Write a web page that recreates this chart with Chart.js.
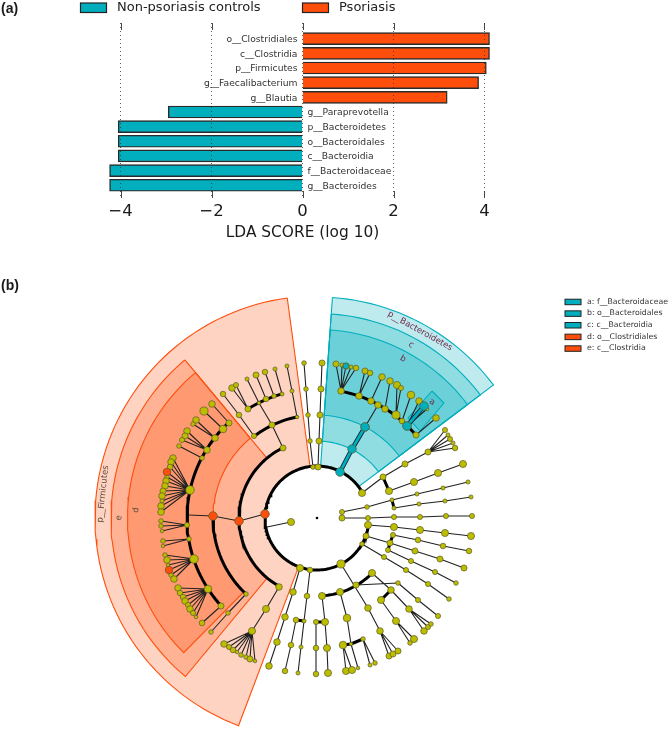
<!DOCTYPE html>
<html><head><meta charset="utf-8">
<style>html,body{margin:0;padding:0;background:#fff;width:669px;height:730px;overflow:hidden}
canvas{position:absolute;left:0}</style>
<script src="https://cdn.jsdelivr.net/npm/chart.js@4"></script>
</head><body>
<canvas id="lda" width="669" height="270" style="top:0"></canvas>
<canvas id="clado" width="669" height="460" style="top:270px"></canvas>
<script>
const FONT='"DejaVu Sans"';
const TEAL='#00AEBD', ORANGE='#FF4E0B';

// ---------- (a) LDA bars ----------
const taxa=['o__Clostridiales','c__Clostridia','p__Firmicutes','g__Faecalibacterium','g__Blautia','g__Paraprevotella','p__Bacteroidetes','o__Bacteroidales','c__Bacteroidia','f__Bacteroidaceae','g__Bacteroides'];
const psoriasisScores=[4.11,4.11,4.04,3.87,3.18];
const controlScores=[-2.95,-4.05,-4.05,-4.05,-4.24,-4.24];
const ldaTicks=[-4,-2,0,2,4];
const groupNames=['Non-psoriasis controls','Psoriasis'];
const cladeKeys=['a: f__Bacteroidaceae','b: o__Bacteroidales','c: c__Bacteroidia','d: o__Clostridiales','e: c__Clostridia'];

// ---------- (b) cladogram ----------
const cladeCentre=[317,518];
// sectors: [startDeg, endDeg, innerR, outerR] clockwise from 12 o'clock
const firmicutesSectors=[[-7.7,-159.3,52,222],[-39.9,-140.3,78,206],[-39.9,-135.3,104,189.5]];
const bacteroidetesSectors=[[4,53,52,221],[4,53,77,204.5],[4,53,103,188.5]];
const familyBox=[[432,391],[444,403],[420,431],[408,418],[432,391]];
// nodes: [x, y, diameter, children]
const firmicutesTree=[
 [265,514,6.5,[[239,521,6.5,[[213,516,6.5,[[188,515,0,[]]]]]]]],
 [291,522,6.5,[[267,527,0,[]]]],
 [283,448,5.5,[[272,425,5.5,[[259,403,3,[[247,379,3.5,[]]]]]]]],
 [254,436,4.5,[[239,415,5,[[223,394,5,[]]]]]],
 [297,417,3,[[292,391,3.5,[[287,366,3.5,[]]]]]],
 [248,409,5.5,[[232,388,6,[]],[236,385,4.5,[]]]],
 [266,399,5,[[256,375,5.5,[]]]],
 [274,396,4,[[265,372,5,[]]]],
 [282,394,3.5,[[275,369,3.5,[]]]],
 [229,423,5.5,[[212,404,6,[]]]],
 [223,429,7,[[204,411,7.5,[]]]],
 [215,438,6,[[196,420,6,[]],[193,424,4,[]]]],
 [207,450,6,[[187,431,6,[]],[185,436,5.5,[]],[182,440,4.5,[]]]],
 [202,458,4,[[179,446,4,[]]]],
 [190,490,8,[[173,458,6,[]],[171,462,6,[]],[170,467,5,[]],[167,472,5.5,[]],[167,477,4,[]],[166,481,6,[]],[165,486,6,[]],[163,491,5.5,[]],[162,496,6,[]],[162,501,3.5,[]],[161,506,6,[]],[161,512,6,[]]]],
 [187,525,4.5,[[161,521,4,[]],[161,526,4,[]],[162,531,3,[]]]],
 [189,539,4,[[163,541,4,[]],[163,546,3,[]]]],
 [194,559,8,[[165,555,4,[]],[167,560,6,[]],[168,565,3,[]],[169,570,5.5,[]],[171,575,4,[]],[174,579,6,[]]]],
 [208,589,7,[[178,588,6,[]],[180,593,5,[]],[183,597,5,[]],[185,601,6,[]],[188,605,4.5,[]],[190,609,6,[]],[193,613,4.5,[]],[196,617,3,[]]]],
 [221,606,5.5,[[202,623,5,[]]]],
 [246,594,4,[[228,613,4,[[211,632,4,[]]]]]],
 [279,587,6,[[266,609,6.5,[[252,631,6.5,[[224,644,6,[]],[229,647,4.5,[]],[233,650,5,[]],[237,652,3,[]],[241,655,4,[]],[246,657,4,[]],[250,659,5.5,[]],[255,661,3,[]]]]]]]]
];
const bacteroidetesTree=[
 [341,391,6,[[336,364,5.5,[]],[342,365,3.5,[]],[346,366,5.5,[]],[351,367,3.5,[]],[356,368,5,[]]]],
 [359,396,6,[[365,371,5.5,[]],[370,373,5,[]]]],
 [371,401,6,[[382,377,6,[]]]],
 [378,405,6,[[365,427,7.5,[]]]],
 [385,409,6,[[390,381,6,[]]]],
 [396,415,7.5,[[397,385,6.5,[]],[401,388,4.5,[]]]],
 [402,421,5,[[411,395,7,[]]]],
 [407,426,7.5,[[419,401,6,[]],[427,409,3,[]]]],
 [416,435,5.5,[[436,418,6,[]]]]
];
const otherTree=[
 [313,467,4,[[310,441,4,[[308,415,4,[[306,389,4,[[304,363,4,[]]]]]]]]]],
 [318,467,5.5,[[319,441,5.5,[[320,415,5.5,[[321,389,5.5,[[322,363,5.5,[]]]]]]]]]],
 [362,493,6.5,[[383,477,5.5,[[405,464,5.5,[[428,452,5.5,[[445,430,4.5,[]],[448,435,3.5,[]],[450,439,4.5,[]],[453,443,3.5,[]],[455,448,5,[]]]]]]]]]],
 [389,491,6.5,[[414,482,6.5,[[438,473,6.5,[[463,464,6.5,[]]]]]]]],
 [342,512,4.5,[[367,507,4,[[392,500,3.5,[[417,494,3.5,[[443,488,3.5,[[468,482,3.5,[]]]]]]]]]]]],
 [394,508,3.5,[[419,504,3.5,[[445,501,3.5,[[471,497,3.5,[]]]]]]]],
 [342,518,5.5,[[368,518,4.5,[[394,517,4.5,[[420,517,4.5,[[446,516,4.5,[[472,516,4.5,[]]]]]]]]]]]],
 [368,525,6.5,[[394,527,6.5,[[420,530,6.5,[[445,533,6.5,[[471,536,6.5,[]]]]]]]]]],
 [366,536,5.5,[[390,543,5.5,[[415,551,5.5,[[440,559,5.5,[[464,568,5.5,[]]]]]]]]]],
 [393,535,4.5,[[418,540,5,[[443,546,5,[[469,551,5,[]]]]]]]],
 [362,544,4,[[384,557,4.5,[[406,570,4.5,[[428,584,4.5,[[449,599,4,[]]]]]]]]]],
 [388,550,4.5,[[411,561,4.5,[[435,572,4.5,[[456,583,4,[]]]]]]]],
 [341,564,7.5,[[368,608,6,[[380,631,6,[[389,656,5.5,[]],[393,654,5.5,[]],[398,651,5.5,[]]]]]]]],
 [372,573,6.5,[[391,590,6,[[409,609,6,[[424,631,6,[]],[428,627,4.5,[]],[431,624,4,[]]]]]]]],
 [381,600,6.5,[[396,621,6.5,[[414,639,6.5,[]],[410,643,4,[]]]]]],
 [356,585,5.5,[[398,583,0,[]]]],
 [398,583,4,[[418,600,4.5,[[438,616,4.5,[]]]]]],
 [340,592,6.5,[[347,618,7,[[351,644,3,[[358,668,3,[]]]]]]]],
 [343,645,7,[[346,671,6.5,[]],[352,670,6.5,[]]]],
 [363,639,4,[[370,665,3.5,[]],[375,663,4,[]]]],
 [322,596,6.5,[[325,622,6.5,[[327,648,6.5,[[328,673,6.5,[]]]]]]]],
 [316,622,4.5,[[316,648,5,[[316,674,5,[]]]]]],
 [310,570,5,[[307,596,5,[[304,621,3.5,[[301,647,3.5,[[298,673,3.5,[]]]]]]]]]],
 [296,620,5,[[291,645,5,[[285,671,5,[]]]]]],
 [300,568,6.5,[[293,592,6,[[285,617,6,[[277,642,6,[[269,666,6,[]]]]]]]]]]
];
const tealNodes=[[340,472,8],[352,449,8],[365,427,8],[407,426,8],[424,406,8],[346,366,5.5]];
const orangeNodes=[[265,514,8],[239,521,8],[213,516,8],[167,472,7],[169,570,7]];
const tealBranches=[[340,472,352,449,365,427],[407,426,424,406]];
// thick arcs: [radius, startDeg, endDeg]
const thickArcs=[[52,98,421],[78,-26,-151.2],[104,-91,-137],[103,-37.5,-11.2],[130,-42.8,-132.5],[129,-32.3,-15.8],[129,10.7,50],[78,135,176]];
const thickBranches=[[383,477,389,491],[392,500,394,508],[393,535,390,543,388,550],[391,590,381,600],[316,622,325,622],[296,620,304,621],[343,645,351,644,363,639]];

const pol=(r,d)=>({x:cladeCentre[0]+r*Math.sin(d*Math.PI/180),y:cladeCentre[1]-r*Math.cos(d*Math.PI/180)});
function arcPts(r,a,b){const n=Math.max(2,Math.ceil(Math.abs(b-a)/2));const o=[];for(let i=0;i<=n;i++)o.push(pol(r,a+(b-a)*i/n));return o;}
function sectorPts(s){const o=arcPts(s[3],s[0],s[1]).concat(arcPts(s[2],s[1],s[0]));o.push(o[0]);return o;}
const thinPts=[],yellow=[];
(function walk(list,parent){for(const n of list){if(parent){thinPts.push({x:parent[0],y:parent[1]},{x:n[0],y:n[1]},{x:null,y:null});}
  if(n[2]>0)yellow.push(n);walk(n[3],n);}
}).call(null,[...firmicutesTree,...bacteroidetesTree,...otherTree],null);
const seg=l=>{const o=[];for(const p of l){for(let i=0;i<p.length;i+=2)o.push({x:p[i],y:p[i+1]});o.push({x:null,y:null});}return o;};
const arcsAll=[];for(const a of thickArcs){arcsAll.push(...arcPts(a[0],a[1],a[2]),{x:null,y:null});}

const sectorDs=(s,col,ord)=>({data:sectorPts(s),showLine:true,pointRadius:0,borderColor:col,borderWidth:1.1,sectorFill:col,order:ord});
const nodeDs=(list,col,ord)=>({data:list.map(n=>({x:n[0],y:n[1]})),pointRadius:list.map(n=>n[2]/2+.3),pointBackgroundColor:col,pointBorderColor:'#5a5a28',pointBorderWidth:.7,showLine:false,order:ord});
const lineDs=(d,col,w,ord)=>({data:d,showLine:true,pointRadius:0,borderColor:col,borderWidth:w,order:ord,borderCapStyle:'round'});

function rgba(hex,a){const v=parseInt(hex.slice(1),16);return `rgba(${v>>16},${(v>>8)&255},${v&255},${a})`;}

const ldaPlugin={id:'ldaText',
 afterDatasetsDraw(c){const ctx=c.ctx,x=c.scales.x,y=c.scales.y;ctx.save();
  ctx.strokeStyle='#333';ctx.lineWidth=.9;
  for(const t of ldaTicks){const p=Math.round(x.getPixelForValue(t))+.5;
    ctx.beginPath();ctx.moveTo(p,y.top);ctx.lineTo(p,y.top+7);ctx.moveTo(p,y.bottom-7);ctx.lineTo(p,y.bottom);ctx.stroke();}
  ctx.font='9.2px '+FONT;ctx.fillStyle='#333';ctx.textBaseline='middle';
  taxa.forEach((t,i)=>{const py=y.getPixelForValue(i)+1;
    if(i<psoriasisScores.length){ctx.textAlign='right';ctx.fillText(t,x.getPixelForValue(0)-5,py);}
    else{ctx.textAlign='left';ctx.fillText(t,x.getPixelForValue(0)+5,py);}});
  // group legend
  const boxes=[[80.5,TEAL,117],[302.5,ORANGE,339]];
  boxes.forEach((b,i)=>{ctx.fillStyle=b[1];ctx.strokeStyle='#222';ctx.lineWidth=1.2;ctx.fillRect(b[0],3,26,9.5);ctx.strokeRect(b[0],3,26,9.5);
    ctx.fillStyle='#222';ctx.textAlign='left';ctx.font='13px '+FONT;ctx.fillText(groupNames[i],b[2],8);});
  ctx.font='bold 14px "Liberation Sans"';ctx.fillStyle='#1a1a1a';ctx.fillText('(a)',1,9);
  ctx.restore();}};

const cladoPlugin={id:'cladoFill',
 beforeDatasetDraw(c,args){const ds=c.data.datasets[args.index];if(!ds.sectorFill)return;
  const pts=c.getDatasetMeta(args.index).data,ctx=c.ctx;ctx.save();ctx.fillStyle=rgba(ds.sectorFill,.25);ctx.beginPath();
  pts.forEach((p,i)=>i?ctx.lineTo(p.x,p.y):ctx.moveTo(p.x,p.y));ctx.closePath();ctx.fill();ctx.restore();},
 afterDraw(c){const ctx=c.ctx,X=v=>c.scales.x.getPixelForValue(v),Y=v=>c.scales.y.getPixelForValue(v);ctx.save();
  const rot=(s,x,y,deg,col)=>{ctx.save();ctx.translate(X(x),Y(y));ctx.rotate(deg*Math.PI/180);ctx.fillStyle=col;ctx.textAlign='center';ctx.textBaseline='middle';ctx.font='8.5px '+FONT;ctx.fillText(s,0,0);ctx.restore();};
  const g='#5b4a3a',m='#6e2a4a';
  rot('p__Firmicutes',103,494,-84,g);rot('e',119,518,-84,g);rot('d',136,510,-84,g);
  rot('p__Bacteroidetes',420,331,29,m);rot('c',411,345,29,m);rot('b',403,359,29,m);rot('a',432,402,29,m);
  ctx.textBaseline='middle';ctx.textAlign='left';
  cladeKeys.forEach((k,i)=>{const y=Y(301.7+i*11.65);ctx.fillStyle=i<3?TEAL:ORANGE;ctx.strokeStyle='#222';ctx.lineWidth=1;ctx.fillRect(X(565),y-2.5,16,5.5);ctx.strokeRect(X(565),y-2.5,16,5.5);
    ctx.fillStyle='#333';ctx.font='7.8px '+FONT;ctx.fillText(k,X(587),y);});
  ctx.font='bold 14px "Liberation Sans"';ctx.fillStyle='#1a1a1a';ctx.fillText('(b)',X(1),Y(286));
  ctx.restore();}};

new Chart(document.getElementById('lda'),{type:'bar',
 data:{datasets:[
  {label:groupNames[1],data:psoriasisScores.map((v,i)=>({x:v,y:i})),backgroundColor:ORANGE,borderColor:'#2a2a2a',borderWidth:1.4,barThickness:12,grouped:false},
  {label:groupNames[0],data:controlScores.map((v,i)=>({x:v,y:i+psoriasisScores.length})),backgroundColor:TEAL,borderColor:'#2a2a2a',borderWidth:1.4,barThickness:12,grouped:false}]},
 options:{indexAxis:'y',responsive:false,animation:false,events:[],
  layout:{padding:{left:102.3,right:166.3,top:23,bottom:0},autoPadding:false},
  plugins:{legend:{display:false},tooltip:{enabled:false}},
  scales:{
   y:{type:'linear',reverse:true,offset:false,min:-1.07,max:10.87,display:false},
   x:{type:'linear',min:-4.4,max:4.4,afterBuildTicks(s){s.ticks=ldaTicks.map(v=>({value:v}));},afterFit(s){s.height=72;},
      grid:{color:'#333',lineWidth:.8,drawTicks:false,z:1},border:{display:false,dash:[1,3]},
      ticks:{padding:4,maxRotation:0,font:{family:FONT,size:16.5},color:'#1a1a1a',callback:v=>v<0?'\u2212'+Math.abs(v):String(v)},
      title:{display:true,text:'LDA SCORE (log 10)',font:{family:FONT,size:15.4},color:'#1a1a1a',padding:{top:0,bottom:28}}}}},
 plugins:[ldaPlugin]});

const datasets=[];
firmicutesSectors.forEach((s,i)=>datasets.push(sectorDs(s,ORANGE,60-i)));
bacteroidetesSectors.forEach((s,i)=>datasets.push(sectorDs(s,TEAL,50-i)));
datasets.push(sectorDs([0,0,0,0],TEAL,45));
datasets[datasets.length-1].data=familyBox.map(p=>({x:p[0],y:p[1]}));
datasets.push(lineDs(thinPts,'#222',1.1,30));
datasets.push(lineDs(arcsAll,'#000',3,25));
datasets.push(lineDs(seg(thickBranches),'#000',3,24));
datasets.push(lineDs(seg(tealBranches),'#123',4.6,23));
datasets.push(lineDs(seg(tealBranches),TEAL,2.8,22));
datasets.push(nodeDs(yellow,'#BDBD00',10));
datasets.push(nodeDs(orangeNodes,ORANGE,5));
datasets.push(nodeDs(tealNodes,TEAL,4));
datasets.push({data:[{x:cladeCentre[0],y:cladeCentre[1]}],pointRadius:1.3,pointBackgroundColor:'#000',pointBorderWidth:0,showLine:false,order:3});

new Chart(document.getElementById('clado'),{type:'scatter',data:{datasets},
 options:{responsive:false,animation:false,events:[],spanGaps:false,layout:{padding:0,autoPadding:false},
  plugins:{legend:{display:false},tooltip:{enabled:false}},
  scales:{x:{type:'linear',min:0,max:669,display:false},y:{type:'linear',min:270,max:730,reverse:true,display:false}}},
 plugins:[cladoPlugin]});
</script></body></html>
